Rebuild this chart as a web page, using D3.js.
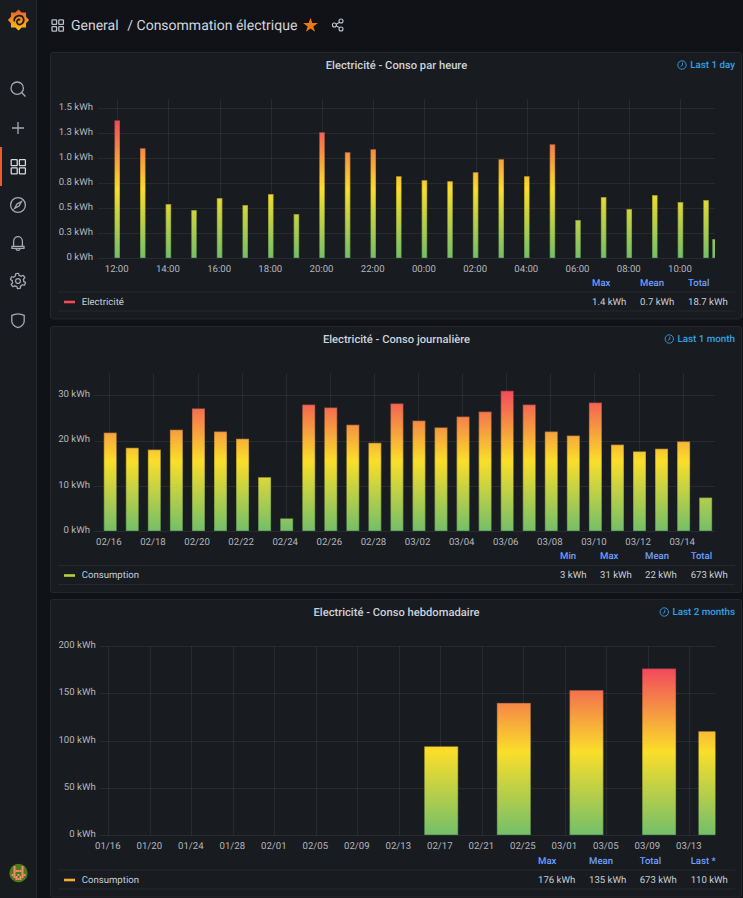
<!DOCTYPE html>
<html>
<head>
<meta charset="utf-8">
<title>Consommation électrique</title>
<script src="https://cdn.jsdelivr.net/npm/d3@7/dist/d3.min.js"></script>
<style>
  html, body { margin: 0; padding: 0; background: #111217; }
  svg { display: block; font-family: Roboto, sans-serif; }
  text { text-rendering: geometricPrecision; }
</style>
</head>
<body>
<div id="chart"></div>
<script>
// Hourly panel: one value per hour from 12:00, the last one is the running hour
const hourlyValues = [1.38, 1.10, 0.54, 0.48, 0.60, 0.53, 0.64, 0.44, 1.26, 1.06, 1.09, 0.82,
  0.78, 0.77, 0.86, 0.99, 0.82, 1.14, 0.38, 0.61, 0.49, 0.63, 0.56, 0.58, 0.19];
const hourlyTickLabels = ['12:00', '14:00', '16:00', '18:00', '20:00', '22:00', '00:00',
  '02:00', '04:00', '06:00', '08:00', '10:00'];
const hourlyYTicks = [0, 0.25, 0.5, 0.75, 1, 1.25, 1.5];
const hourlyYLabels = ['0 kWh', '0.3 kWh', '0.5 kWh', '0.8 kWh', '1.0 kWh', '1.3 kWh', '1.5 kWh'];
const hourlyLegendHeads = ['Max', 'Mean', 'Total'];
const hourlyLegendValues = ['1.4 kWh', '0.7 kWh', '18.7 kWh'];

// Daily panel: 02/16 to 03/15
const dailyValues = [21.75, 18.4, 18.0, 22.4, 27.1, 22.0, 20.4, 11.9, 2.8, 27.95, 27.3, 23.5, 19.5,
  28.2, 24.4, 22.9, 25.3, 26.4, 31.0, 27.95, 22.0, 21.1, 28.4, 19.1, 17.6, 18.2, 19.8, 7.4];
const dailyTickLabels = ['02/16', '02/18', '02/20', '02/22', '02/24', '02/26', '02/28', '03/02',
  '03/04', '03/06', '03/08', '03/10', '03/12', '03/14'];
const dailyYTicks = [0, 10, 20, 30];
const dailyYLabels = ['0 kWh', '10 kWh', '20 kWh', '30 kWh'];
const dailyLegendHeads = ['Min', 'Max', 'Mean', 'Total'];
const dailyLegendValues = ['3 kWh', '31 kWh', '22 kWh', '673 kWh'];

// Weekly panel
const weeklyDates = ['02/17', '02/24', '03/03', '03/10', '03/15'];
const weeklyValues = [94, 140, 153.5, 176.5, 110];
const weeklyTickLabels = ['01/16', '01/20', '01/24', '01/28', '02/01', '02/05', '02/09', '02/13',
  '02/17', '02/21', '02/25', '03/01', '03/05', '03/09', '03/13'];
const weeklyYTicks = [0, 50, 100, 150, 200];
const weeklyYLabels = ['0 kWh', '50 kWh', '100 kWh', '150 kWh', '200 kWh'];
const weeklyLegendHeads = ['Max', 'Mean', 'Total', 'Last *'];
const weeklyLegendValues = ['176 kWh', '135 kWh', '673 kWh', '110 kWh'];

const day = (md, h = 0, min = 0) => {
  const [m, d] = md.split('/').map(Number);
  return new Date(2021, m - 1, d, h, min);
};
const hourAt = (h, min = 0) => new Date(2021, 2, 14, h, min);

const hourlyDates = hourlyValues.map((_, i) => i === 24 ? hourAt(35, 21) : hourAt(12 + i));
const dailyDates = dailyValues.map((_, i) => d3.timeDay.offset(day('02/16', 1), i));
const weeklyBarDates = weeklyDates.map((d, i) => i === 4 ? day(d, 12) : day(d, 2));

const panels = [
  {
    box: [52, 318.5], title: 'Electricité - Conso par heure', range: 'Last 1 day', clockX: 682,
    xRange: [98, 715], yTop: 99, y0: 258, y1: 108.3, yMax: 1.5,
    domain: [hourAt(11, 15), hourAt(35, 21)], dates: hourlyDates, values: hourlyValues, barWidth: 5.6,
    ticks: hourlyTickLabels.map((_, i) => hourAt(12 + i * 2)), tickLabels: hourlyTickLabels,
    yTicks: hourlyYTicks, yLabels: hourlyYLabels, labelEnd: 93,
    legend: 'Electricité', swatch: '#f2495c', heads: hourlyLegendHeads, stats: hourlyLegendValues,
    cols: [592, 640, 688]
  },
  {
    box: [326, 592], title: 'Electricité - Conso journalière', range: 'Last 1 month', clockX: 669.3,
    xRange: [94, 715], yTop: 373.3, y0: 531, y1: 395.3, yMax: 30,
    domain: [day('02/15', 7, 20), day('03/15', 11, 10)], dates: dailyDates, values: dailyValues, barWidth: 13,
    ticks: dailyTickLabels.map(d => day(d)), tickLabels: dailyTickLabels,
    yTicks: dailyYTicks, yLabels: dailyYLabels, labelEnd: 90,
    legend: 'Consumption', swatch: '#b5d13c', heads: dailyLegendHeads, stats: dailyLegendValues,
    cols: [560, 600, 645, 690.7]
  },
  {
    box: [599, 896.5], title: 'Electricité - Conso hebdomadaire', range: 'Last 2 months', clockX: 664.3,
    xRange: [100, 715.3], yTop: 646.3, y0: 835, y1: 646.3, yMax: 200,
    domain: [day('01/15', 4, 48), day('03/15', 12)], dates: weeklyBarDates, values: weeklyValues, barWidth: 34,
    ticks: weeklyTickLabels.map(d => day(d)), tickLabels: weeklyTickLabels,
    yTicks: weeklyYTicks, yLabels: weeklyYLabels, labelEnd: 95.7,
    legend: 'Consumption', swatch: '#f5ab3c', heads: weeklyLegendHeads, stats: weeklyLegendValues,
    cols: [538, 589, 639.7, 690.7]
  }
];

const svg = d3.select('#chart').append('svg').attr('width', 743).attr('height', 898);
const defs = svg.append('defs');

svg.append('rect').attr('width', 743).attr('height', 898).attr('fill', '#111217');

panels.forEach((p, idx) => {
  const [top, bottom] = p.box;
  const titleY = top + 13;

  svg.append('rect')
    .attr('x', 50.5).attr('y', top + 0.5).attr('width', 691).attr('height', bottom - top)
    .attr('rx', 2).attr('fill', '#181b1f').attr('stroke', '#24272c');

  svg.append('text').attr('x', 396.5).attr('y', titleY).attr('dy', '0.35em')
    .attr('text-anchor', 'middle').attr('font-size', 11.2).attr('font-weight', 500)
    .attr('fill', '#ccd3db').text(p.title);

  // time range override
  svg.append('text').attr('x', 735).attr('y', titleY).attr('dy', '0.35em')
    .attr('text-anchor', 'end').attr('font-size', 9.8).attr('font-weight', 500)
    .attr('fill', '#33a2e5').text(p.range);
  const clock = svg.append('g').attr('transform', `translate(${p.clockX},${titleY})`)
    .attr('fill', 'none').attr('stroke', '#33a2e5').attr('stroke-width', 0.9);
  clock.append('circle').attr('r', 4.2);
  clock.append('path').attr('d', 'M0.5,-2.4V0.2L-1.4,1.4');

  const x = d3.scaleTime().domain(p.domain).range(p.xRange);
  const y = d3.scaleLinear().domain([0, p.yMax]).range([p.y0, p.y1]);

  // grid
  const grid = svg.append('g').attr('stroke', '#ffffff').attr('stroke-opacity', 0.07);
  grid.selectAll('.h').data(p.yTicks).join('line').attr('class', 'h')
    .attr('x1', p.xRange[0]).attr('x2', p.xRange[1])
    .attr('y1', d => Math.round(y(d)) + 0.5).attr('y2', d => Math.round(y(d)) + 0.5);
  grid.selectAll('.v').data(p.ticks).join('line').attr('class', 'v')
    .attr('x1', d => Math.round(x(d)) + 0.5).attr('x2', d => Math.round(x(d)) + 0.5)
    .attr('y1', p.yTop).attr('y2', p.y0);

  // y labels
  svg.append('g').selectAll('text').data(p.yTicks).join('text')
    .attr('x', p.labelEnd).attr('y', d => y(d) - 1.5).attr('dy', '0.35em')
    .attr('text-anchor', 'end').attr('font-size', 9.6).attr('fill', '#b4b8bf')
    .text((d, i) => p.yLabels[i]);

  // x labels
  svg.append('g').selectAll('text').data(p.ticks).join('text')
    .attr('x', d => x(d) - 0.5).attr('y', p.y0 + 10.6).attr('dy', '0.35em')
    .attr('text-anchor', 'middle').attr('font-size', 9.6).attr('fill', '#b4b8bf')
    .text((d, i) => p.tickLabels[i]);

  // gradient follows the value scale: green at 0, yellow halfway, red at the max
  const gradId = `scheme${idx}`;
  const maxVal = d3.max(p.values);
  const grad = defs.append('linearGradient').attr('id', gradId)
    .attr('gradientUnits', 'userSpaceOnUse')
    .attr('x1', 0).attr('x2', 0).attr('y1', y(0)).attr('y2', y(maxVal));
  grad.append('stop').attr('offset', '0%').attr('stop-color', '#73bf69');
  grad.append('stop').attr('offset', '50%').attr('stop-color', '#fade2a');
  grad.append('stop').attr('offset', '100%').attr('stop-color', '#f2495c');

  const clipId = `plot${idx}`;
  defs.append('clipPath').attr('id', clipId).append('rect')
    .attr('x', p.xRange[0]).attr('y', p.yTop - 20)
    .attr('width', p.xRange[1] - p.xRange[0]).attr('height', p.y0 - p.yTop + 21);

  const bars = p.values.map((v, i) => ({ v, t: p.dates[i] }));
  const barG = svg.append('g').attr('clip-path', `url(#${clipId})`);
  // dim outline under a slightly inset fill, same colours
  barG.selectAll('.edge').data(bars).join('rect').attr('class', 'edge')
    .attr('x', d => x(d.t) - p.barWidth / 2)
    .attr('y', d => y(d.v))
    .attr('width', p.barWidth)
    .attr('height', d => y(0) - y(d.v))
    .attr('fill', `url(#${gradId})`).attr('fill-opacity', 0.65);
  barG.selectAll('.fill').data(bars).join('rect').attr('class', 'fill')
    .attr('x', d => x(d.t) - p.barWidth / 2 + 0.7)
    .attr('y', d => y(d.v) + 0.7)
    .attr('width', p.barWidth - 1.4)
    .attr('height', d => y(0) - y(d.v) - 1.2)
    .attr('fill', `url(#${gradId})`);

  // legend table
  const headY = bottom - 36;
  const rowY = bottom - 17;
  const legend = svg.append('g');
  legend.selectAll('line').data([bottom - 26.5, bottom - 7.5]).join('line')
    .attr('x1', 58).attr('x2', 735).attr('y1', d => d).attr('y2', d => d)
    .attr('stroke', '#ffffff').attr('stroke-opacity', 0.06);
  legend.append('rect').attr('x', 64).attr('y', rowY - 0.8).attr('width', 11).attr('height', 2.6)
    .attr('fill', p.swatch);
  legend.append('text').attr('x', 81.7).attr('y', rowY).attr('dy', '0.35em')
    .attr('font-size', 9.6).attr('fill', '#c7d0d9').text(p.legend);
  legend.selectAll('.head').data(p.heads).join('text').attr('class', 'head')
    .attr('x', (d, i) => p.cols[i]).attr('y', headY).attr('dy', '0.35em')
    .attr('font-size', 9.6).attr('font-weight', 500).attr('fill', '#6e9fff').text(d => d);
  legend.selectAll('.stat').data(p.stats).join('text').attr('class', 'stat')
    .attr('x', (d, i) => p.cols[i]).attr('y', rowY).attr('dy', '0.35em')
    .attr('font-size', 9.6).attr('fill', '#c7d0d9').text(d => d);
});

// page header
const dashIcon = (g, x0, y0, s, gap, color) => {
  [[0, 0], [1, 0], [0, 1], [1, 1]].forEach(([a, b]) => {
    g.append('rect').attr('x', x0 + a * (s + gap)).attr('y', y0 + b * (s + gap))
      .attr('width', s).attr('height', s).attr('rx', 0.6)
      .attr('fill', 'none').attr('stroke', color).attr('stroke-width', 1.3);
  });
};
const header = svg.append('g');
dashIcon(header, 52, 19.8, 4.6, 2.2, '#b8bcc4');
header.append('text').attr('x', 71).attr('y', 25).attr('dy', '0.35em')
  .attr('font-size', 14).attr('fill', '#d0d6de').text('General');
header.append('text').attr('x', 127.3).attr('y', 25).attr('dy', '0.35em')
  .attr('font-size', 14).attr('fill', '#d0d6de').text('/ Consommation électrique');
header.append('path').attr('transform', 'translate(310.5,25.5)')
  .attr('d', d3.symbol(d3.symbolStar, 68)()).attr('fill', '#ec7a12');
const share = header.append('g').attr('transform', 'translate(338,25)')
  .attr('fill', 'none').attr('stroke', '#c3c8d0').attr('stroke-width', 1.1);
share.append('path').attr('d', 'M-3,0L3,-3.6M-3,0L3,3.6');
[[-3.6, 0], [3, -4], [3, 4]].forEach(([a, b]) => share.append('circle').attr('cx', a).attr('cy', b).attr('r', 2).attr('fill', '#111217'));

// side menu
const side = svg.append('g');
side.append('rect').attr('width', 36).attr('height', 898).attr('fill', '#181b1f');
side.append('line').attr('x1', 36.5).attr('x2', 36.5).attr('y1', 0).attr('y2', 898).attr('stroke', '#24272c');
side.append('rect').attr('x', 0).attr('y', 147).attr('width', 2).attr('height', 39).attr('fill', '#f05a28');

const iconColor = '#a5a9b1';
const icon = (cy) => side.append('g').attr('transform', `translate(18,${cy})`)
  .attr('fill', 'none').attr('stroke', iconColor).attr('stroke-width', 1.3);

const search = icon(89);
search.append('circle').attr('cx', -0.8).attr('cy', -0.8).attr('r', 6.2);
search.append('path').attr('d', 'M3.8,3.8L7.5,7.5');
icon(128).append('path').attr('d', 'M0,-6V6M-6,0H6');
dashIcon(side, 11.2, 159.6, 6, 2.2, '#d4d7dc');
const compass = icon(205);
compass.append('circle').attr('r', 7.4);
compass.append('path').attr('d', 'M3.4,-3.4L1,1L-3.4,3.4L-1,-1Z');
const bell = icon(243);
bell.append('path').attr('d', 'M-4.4,3V-1.5C-4.4,-8 4.4,-8 4.4,-1.5V3M-6,3.4H6V5.4H-6ZM-2,5.6C-2,8 2,8 2,5.6');
const gear = icon(281);
gear.append('circle').attr('r', 2.4);
const gearPts = d3.range(48).map(i => {
  const a = i / 48 * 2 * Math.PI;
  const r = (i % 8 < 4) ? 7.6 : 5.7;
  return [r * Math.cos(a + 0.2), r * Math.sin(a + 0.2)];
});
gear.append('path').attr('d', d3.line().curve(d3.curveCatmullRomClosed)(gearPts));
icon(320).append('path').attr('d', 'M-6.2,-4.6Q0,-7.8 6.2,-4.6V1C6.2,5 2.5,6.8 0,7.6C-2.5,6.8 -6.2,5 -6.2,1Z');

// logo: spiky disc with a dark spiral
const logoGrad = defs.append('linearGradient').attr('id', 'logoGrad')
  .attr('x1', 0).attr('x2', 0).attr('y1', 1).attr('y2', 0);
logoGrad.append('stop').attr('offset', '0%').attr('stop-color', '#fcc419');
logoGrad.append('stop').attr('offset', '100%').attr('stop-color', '#ef5a28');
const logo = svg.append('g').attr('transform', 'translate(18.5,20)');
const logoPts = d3.range(16).map(i => {
  const a = i / 16 * 2 * Math.PI;
  const r = i % 2 ? 8.2 : 10.6;
  return [r * Math.cos(a), r * Math.sin(a)];
});
logo.append('path').attr('d', d3.line().curve(d3.curveLinearClosed)(logoPts)).attr('fill', 'url(#logoGrad)');
logo.append('path').attr('d', 'M-4.2,1.5C-5,-4.5 3,-6.5 5,-1.5C6.4,3 1.5,6 -1,3.6C-3,1.4 -0.4,-1.5 1.6,0')
  .attr('fill', 'none').attr('stroke', '#1b1d21').attr('stroke-width', 1.7);

// avatar: small identicon
const avatar = svg.append('g').attr('transform', 'translate(18.5,873)');
avatar.append('circle').attr('r', 9.2).attr('fill', '#4f7a1a');
const avatarCells = [[-5, -7], [3, -7], [-5, -5], [3, -5], [-5, -3], [-3, -3], [-1, -3], [1, -3], [3, -3],
  [-5, -1], [3, -1], [-7, 1], [-5, 1], [-1, 1], [3, 1], [5, 1], [-5, 3], [-3, 3], [1, 3], [3, 3], [-3, 5], [-1, 5], [1, 5]];
avatar.selectAll('rect').data(avatarCells).join('rect')
  .attr('x', d => d[0]).attr('y', d => d[1]).attr('width', 2).attr('height', 2).attr('fill', '#f08a72');
</script>
</body>
</html>
